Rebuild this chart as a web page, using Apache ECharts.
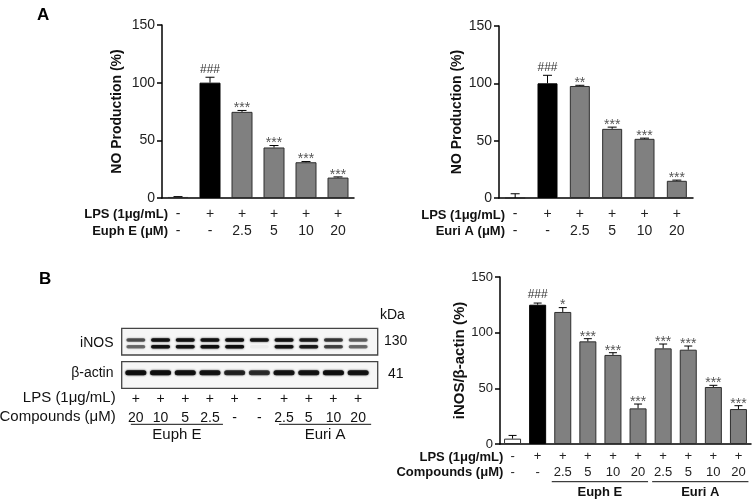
<!DOCTYPE html>
<html><head><meta charset="utf-8">
<script src="https://cdn.jsdelivr.net/npm/echarts@6/dist/echarts.min.js"></script>
<style>html,body{margin:0;padding:0;background:#fff}#c{width:753px;height:503px}</style>
</head><body><div id="c"></div>
<script>
// ---------- Panel A (left): Euph E ----------
const lpsA = ['-', '+', '+', '+', '+', '+'];
const euphDoseA = ['-', '-', '2.5', '5', '10', '20'];
const noEuph = [0.9, 100, 74.7, 43.8, 31, 17.7];
const noEuphErr = [0.3, 4.7, 1.2, 1.7, 0.6, 0.6];
const noEuphSig = ['', '###', '***', '***', '***', '***'];
// ---------- Panel A (right): Euri A ----------
const euriDoseA = ['-', '-', '2.5', '5', '10', '20'];
const noEuri = [0, 100, 97.7, 60.3, 51.6, 15];
const noEuriErr = [3.7, 7, 0.6, 1.5, 0.6, 0.6];
const noEuriSig = ['', '###', '**', '***', '***', '***'];
// ---------- Panel B: western blot ----------
const blotRows = ['iNOS', 'β-actin'];
const lpsBlot = ['+', '+', '+', '+', '+', '-', '+', '+', '+', '+'];
const doseBlot = ['20', '10', '5', '2.5', '-', '-', '2.5', '5', '10', '20'];
const inosUpper = [0.6, 0.92, 0.92, 0.92, 0.95, 0.9, 0.92, 0.85, 0.7, 0.55];
const inosLower = [0.5, 0.92, 0.92, 0.95, 0.95, 0.04, 0.92, 0.85, 0.65, 0.5];
const actinBand = [0.95, 0.95, 0.93, 0.9, 0.8, 0.75, 0.9, 0.9, 0.95, 0.9];
const kdaLabels = ['kDa', '130', '41'];
// ---------- Panel B (right): iNOS/β-actin ----------
const lpsB = ['-', '+', '+', '+', '+', '+', '+', '+', '+', '+'];
const doseB = ['-', '-', '2.5', '5', '10', '20', '2.5', '5', '10', '20'];
const inosRatio = [4.8, 125.1, 118.6, 92.2, 80, 32, 85.9, 84.7, 51.2, 31.4];
const inosErr = [2.9, 1.5, 3.9, 2.4, 2, 3.9, 3.9, 3.3, 1.5, 3];
const inosSig = ['', '###', '*', '***', '***', '***', '***', '***', '***', '***'];
const groupNames = ['Euph E', 'Euri A'];
const yTicks = [0, 50, 100, 150];

const F = '"Liberation Sans", Arial, Helvetica, sans-serif';
const GRAY = '#808080', EDGE = '#2e2e2e';

function barData(vals) {
  return vals.map((v, i) => ({
    value: v,
    itemStyle: {
      color: i === 0 ? '#fff' : i === 1 ? '#000' : GRAY,
      borderColor: i === 1 ? '#000' : EDGE, borderWidth: 1
    }
  }));
}
function errSeries(ai, vals, errs, sigs, capW) {
  return {
    type: 'custom', xAxisIndex: ai, yAxisIndex: ai, z: 5, silent: true,
    data: vals.map((v, i) => [i, v, errs[i]]),
    renderItem: (p, api) => {
      const i = api.value(0), v = api.value(1), e = api.value(2);
      const b = api.coord([i, v]), t = api.coord([i, v + e]);
      const ch = [
        { type: 'line', shape: { x1: b[0], y1: b[1], x2: t[0], y2: t[1] }, style: { stroke: '#000', lineWidth: 1 } },
        { type: 'line', shape: { x1: t[0] - capW / 2, y1: t[1], x2: t[0] + capW / 2, y2: t[1] }, style: { stroke: '#000', lineWidth: 1 } }
      ];
      const s = sigs[i];
      if (s) {
        const star = s[0] === '*';
        ch.push({ type: 'text', style: {
          text: s, x: t[0], y: star ? t[1] + 5 : t[1] - 2,
          textAlign: 'center', textVerticalAlign: 'bottom',
          fontFamily: F, fontSize: star ? 14 : 12, fill: star ? '#555' : '#333'
        } });
      }
      return { type: 'group', children: ch };
    }
  };
}
function catAxis(gi, lps, dose, fs, lh, margin) {
  return {
    type: 'category', gridIndex: gi, data: lps.map((_, i) => String(i)),
    axisLine: { lineStyle: { color: '#000', width: 1.5 } },
    axisTick: { alignWithLabel: true, length: 5, lineStyle: { color: '#000', width: 1.5 } },
    axisLabel: { interval: 0, margin: margin, color: '#222', fontFamily: F, fontSize: fs, lineHeight: lh,
      formatter: (v, i) => lps[i] + '\n' + dose[i] }
  };
}
function valAxis(gi, name, nameGap, nameSize, fs) {
  return {
    type: 'value', gridIndex: gi, min: yTicks[0], max: yTicks[yTicks.length - 1], interval: yTicks[1] - yTicks[0],
    axisLine: { show: true, lineStyle: { color: '#000', width: 1.5 } },
    axisTick: { show: true, length: 5, lineStyle: { color: '#000', width: 1.5 } },
    splitLine: { show: false },
    axisLabel: { margin: 7, color: '#222', fontFamily: F, fontSize: fs },
    name: name, nameLocation: 'middle', nameGap: nameGap,
    nameTextStyle: { fontWeight: 'bold', fontSize: nameSize, color: '#111', fontFamily: F }
  };
}
function bandSeries(row, arrs, w, h, offs) {
  return {
    type: 'custom', xAxisIndex: 3, yAxisIndex: 3, silent: true,
    data: arrs[0].map((_, i) => [i, row].concat(arrs.map(a => a[i]))),
    renderItem: (p, api) => {
      const c = api.coord([api.value(0), api.value(1)]);
      const ch = offs.map((o, k) => {
        const a = api.value(2 + k);
        return { type: 'rect', shape: { x: c[0] - w / 2, y: c[1] + o - h / 2, width: w, height: h, r: h / 2 },
          style: { fill: 'rgba(12,12,12,' + a + ')', shadowBlur: 2, shadowColor: 'rgba(12,12,12,' + a + ')' } };
      });
      return { type: 'group', children: ch };
    }
  };
}
function txt(text, x, y, align, size, bold, color) {
  return { type: 'text', silent: true, style: { text: text, x: x, y: y, textAlign: align, textVerticalAlign: 'middle',
    fontFamily: F, fontSize: size, fontWeight: bold ? 'bold' : 'normal', fill: color || '#111' } };
}

const chart = echarts.init(document.getElementById('c'), null, { renderer: 'canvas' });
const option = {
  animation: false,
  backgroundColor: '#fff',
  grid: [
    { left: 162, top: 25, width: 192, height: 173 },
    { left: 499, top: 26, width: 194, height: 172 },
    { left: 500, top: 277, width: 251, height: 167 },
    { left: 123.5, top: 328.3, width: 247, height: 60 }
  ],
  xAxis: [
    catAxis(0, lpsA, euphDoseA, 14, 17, 8),
    catAxis(1, lpsA, euriDoseA, 14, 17, 8),
    catAxis(2, lpsB, doseB, 13, 15.4, 5),
    { type: 'category', gridIndex: 3, data: lpsBlot.map((_, i) => String(i)),
      axisLine: { show: false }, axisTick: { show: false },
      axisLabel: { interval: 0, margin: 1, color: '#111', fontFamily: F, fontSize: 14, lineHeight: 19,
        formatter: (v, i) => lpsBlot[i] + '\n' + doseBlot[i] } }
  ],
  yAxis: [
    valAxis(0, 'NO Production (%)', 38, 14, 14),
    valAxis(1, 'NO Production (%)', 35, 14, 14),
    valAxis(2, 'iNOS/β-actin (%)', 30, 15, 13),
    { type: 'category', gridIndex: 3, inverse: true, data: blotRows,
      axisLine: { show: false }, axisTick: { show: false }, splitLine: { show: false },
      axisLabel: { margin: 10, color: '#111', fontFamily: F, fontSize: 14 } }
  ],
  series: [
    { type: 'bar', xAxisIndex: 0, yAxisIndex: 0, barWidth: 21, data: barData(noEuph) },
    errSeries(0, noEuph, noEuphErr, noEuphSig, 9),
    { type: 'bar', xAxisIndex: 1, yAxisIndex: 1, barWidth: 20, data: barData(noEuri) },
    errSeries(1, noEuri, noEuriErr, noEuriSig, 9),
    { type: 'bar', xAxisIndex: 2, yAxisIndex: 2, barWidth: 17, data: barData(inosRatio) },
    errSeries(2, inosRatio, inosErr, inosSig, 8),
    bandSeries(0, [inosUpper, inosLower], 19, 3.6, [-3.3, 3.4]),
    bandSeries(1, [actinBand], 21, 5, [-0.6])
  ]
};
chart.setOption(option);

// annotations: group underlines computed from category positions
function px(ai, idx) { return chart.convertToPixel({ xAxisIndex: ai }, String(idx)); }
const g = [
  txt('A', 37, 15, 'left', 17, true, '#000'),
  txt('B', 39, 279, 'left', 17, true, '#000'),
  txt('LPS (1μg/mL)', 168, 214.3, 'right', 13, true),
  txt('Euph E (μM)', 168, 231, 'right', 13, true),
  txt('LPS (1μg/mL)', 505, 215, 'right', 13, true),
  txt('Euri A (μM)', 505, 231.5, 'right', 13, true),
  txt('LPS (1μg/mL)', 503.3, 457.3, 'right', 13, true),
  txt('Compounds (μM)', 503.3, 472.7, 'right', 13, true),
  txt('LPS (1μg/mL)', 115.7, 398.3, 'right', 15, false),
  txt('Compounds (μM)', 115.7, 417.3, 'right', 15, false),
  { type: 'rect', silent: true, shape: { x: 121.7, y: 328.3, width: 256, height: 26.7 }, style: { fill: '#f6f6f6', stroke: '#444', lineWidth: 1.3 }, z: -1 },
  { type: 'rect', silent: true, shape: { x: 121.7, y: 361.7, width: 256, height: 26.6 }, style: { fill: '#f6f6f6', stroke: '#444', lineWidth: 1.3 }, z: -1 },
  txt(kdaLabels[0], 380, 315, 'left', 14, false),
  txt(kdaLabels[1], 384, 340.7, 'left', 14, false),
  txt(kdaLabels[2], 388, 374, 'left', 14, false)
];
// blot groups
[[0, 3], [6, 9]].forEach((r, k) => {
  const x1 = px(3, r[0]) - 5, x2 = px(3, r[1]) + 13;
  g.push({ type: 'line', silent: true, shape: { x1: x1, y1: 424.3, x2: x2, y2: 424.3 }, style: { stroke: '#111', lineWidth: 1 } });
  g.push(txt(groupNames[k], (x1 + x2) / 2, 435, 'center', 15, false));
});
// chart 3 groups
[[2, 5], [6, 9]].forEach((r, k) => {
  const x1 = px(2, r[0]) - 11, x2 = Math.min(px(2, r[1]) + 10, 751);
  g.push({ type: 'line', silent: true, shape: { x1: x1, y1: 481.7, x2: x2, y2: 481.7 }, style: { stroke: '#111', lineWidth: 1 } });
  g.push(txt(groupNames[k], (x1 + x2) / 2, 492.7, 'center', 13, true));
});
chart.setOption({ graphic: { elements: g } });
</script></body></html>
